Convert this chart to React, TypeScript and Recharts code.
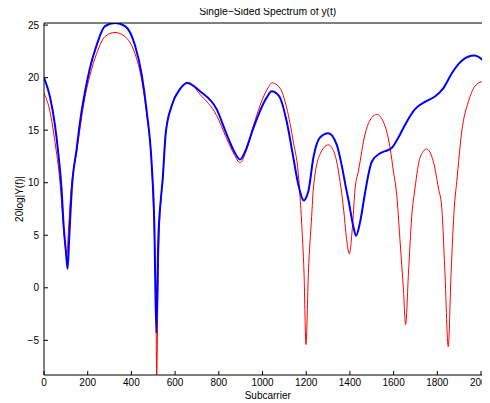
import { LineChart, Line, XAxis, YAxis } from 'recharts';

const title = 'Single\u2212Sided Spectrum of y(t)';
const xLabel = 'Subcarrier';
const yLabel = '20log|Y(f)|';

const xTicks = [0, 200, 400, 600, 800, 1000, 1200, 1400, 1600, 1800, 2000];
const yTicks = [-5, 0, 5, 10, 15, 20, 25];

// blue (thick) trace
const blueX = [
  0, 27, 50, 66, 81, 89, 100, 108, 116, 127, 150, 165, 188, 210, 241, 279, 325, 371, 416, 447, 470, 493,
  505, 514, 523, 535, 543, 557, 584, 622, 655, 714, 790, 836, 870, 897, 925, 958, 1019, 1042, 1065, 1080,
  1111, 1141, 1164, 1190, 1200, 1210, 1233, 1263, 1301, 1340, 1362, 1385, 1393, 1416, 1428, 1446, 1469,
  1485, 1500, 1538, 1561, 1591, 1622, 1652, 1698, 1744, 1789, 1828, 1866, 1912, 1969, 2011, 2048,
];
const blueY = [
  20.0, 18.2, 15.5, 12.7, 9.2, 6.2, 3.5, 1.8, 5.0, 9.3, 13.3, 15.8, 18.7, 20.9, 23.1, 24.9, 25.2, 24.9, 23.1,
  20.3, 16.8, 11.7, 6.0, -4.3, 4.5, 8.5, 10.3, 14.7, 17.3, 18.9, 19.5, 18.7, 17.0, 14.6, 13.0, 12.2, 13.2,
  15.2, 18.1, 18.7, 18.5, 18.1, 15.8, 12.4, 9.8, 8.3, 8.6, 9.2, 12.4, 14.3, 14.7, 13.6, 11.7, 9.2, 8.4, 5.8,
  4.95, 6.2, 9.0, 10.8, 12.0, 12.8, 13.0, 13.3, 14.3, 15.5, 17.0, 17.7, 18.2, 19.0, 20.4, 21.6, 22.1, 21.6,
  20.6,
];

// red (thin) trace
const redX = [
  0, 27, 50, 73, 89, 97, 104, 112, 122, 150, 188, 210, 241, 279, 325, 371, 416, 447, 470, 493, 505, 512,
  516, 521, 527, 543, 557, 584, 622, 660, 714, 790, 836, 870, 897, 925, 958, 1019, 1045, 1080, 1111, 1141,
  1164, 1179, 1190, 1199, 1210, 1225, 1233, 1263, 1301, 1331, 1355, 1370, 1385, 1397, 1413, 1423, 1439,
  1469, 1500, 1523, 1553, 1584, 1599, 1614, 1629, 1645, 1655, 1668, 1683, 1698, 1721, 1751, 1782, 1805,
  1820, 1835, 1850, 1863, 1878, 1889, 1912, 1942, 1973, 2003, 2041, 2048,
];
const redY = [
  18.5, 16.8, 13.9, 10.1, 5.8, 4.0, 3.0, 5.5, 8.8, 13.0, 18.2, 20.2, 22.3, 23.9, 24.3, 23.9, 22.3, 19.8,
  16.5, 11.5, 5.0, -1.0, -8.3, -1.0, 5.0, 10.3, 14.7, 17.3, 18.9, 19.55, 18.4, 16.4, 14.2, 12.7, 11.9, 13.0,
  15.4, 18.8, 19.5, 19.0, 17.1, 13.9, 10.8, 6.2, 1.4, -5.4, 1.4, 6.8, 9.5, 12.7, 13.6, 12.7, 10.1, 7.7, 4.6,
  3.24, 6.2, 9.3, 11.1, 14.6, 16.2, 16.5, 15.8, 13.3, 11.1, 8.9, 4.6, -0.2, -3.5, 1.4, 6.8, 9.5, 12.4, 13.2,
  12.0, 9.5, 7.7, 1.4, -5.6, 1.4, 7.7, 10.1, 14.9, 17.7, 19.2, 19.6, 19.1, 19.0,
];

const blueData = blueX.map((x, i) => ({ x, y: blueY[i] }));
const redData = redX.map((x, i) => ({ x, y: redY[i] }));

const font = '"Liberation Sans", Arial, sans-serif';
const tickStyle = { fill: '#000', fontSize: 10, fontFamily: font };
const minus = (v: number) => String(v).replace('-', '\u2212');

export default function App() {
  return (
    <div
      style={{
        width: 490,
        height: 403,
        marginTop: -8,
        marginLeft: -8,
        overflow: 'hidden',
        background: '#fff',
      }}
    >
      <LineChart width={500} height={403} margin={{ top: 23, right: 8.5, bottom: 8, left: 0 }}>
        <XAxis
          dataKey="x"
          type="number"
          domain={[0, 2048]}
          ticks={xTicks}
          allowDataOverflow
          height={20}
          tickSize={-4}
          tickMargin={8}
          tick={tickStyle}
          stroke="#000"
        />
        <XAxis
          xAxisId="top"
          dataKey="x"
          type="number"
          domain={[0, 2048]}
          ticks={xTicks}
          orientation="top"
          mirror
          tick={false}
          tickSize={4}
          stroke="#000"
        />
        <YAxis
          dataKey="y"
          type="number"
          domain={[-8.3, 25.2]}
          ticks={yTicks}
          allowDataOverflow
          width={44}
          tickSize={-4}
          tickMargin={9}
          tick={tickStyle}
          tickFormatter={minus}
          stroke="#000"
        />
        <YAxis
          yAxisId="right"
          dataKey="y"
          type="number"
          domain={[-8.3, 25.2]}
          ticks={yTicks}
          orientation="right"
          mirror
          tick={false}
          tickSize={4}
          stroke="#000"
        />
        <Line
          data={redData}
          dataKey="y"
          type="monotone"
          stroke="#ff0000"
          strokeWidth={1}
          dot={false}
          isAnimationActive={false}
        />
        <Line
          data={blueData}
          dataKey="y"
          type="monotone"
          stroke="#0000ff"
          strokeWidth={2}
          dot={false}
          isAnimationActive={false}
        />
        <text x={267.75} y={14.5} textAnchor="middle" fontSize={10.3} fontFamily={font} fill="#000">
          {title}
        </text>
        <text x={267.75} y={399} textAnchor="middle" fontSize={10} fontFamily={font} fill="#000">
          {xLabel}
        </text>
        <text
          x={0}
          y={0}
          transform="translate(22.5 199) rotate(-90)"
          textAnchor="middle"
          fontSize={10}
          fontFamily={font}
          fill="#000"
        >
          {yLabel}
        </text>
      </LineChart>
    </div>
  );
}
